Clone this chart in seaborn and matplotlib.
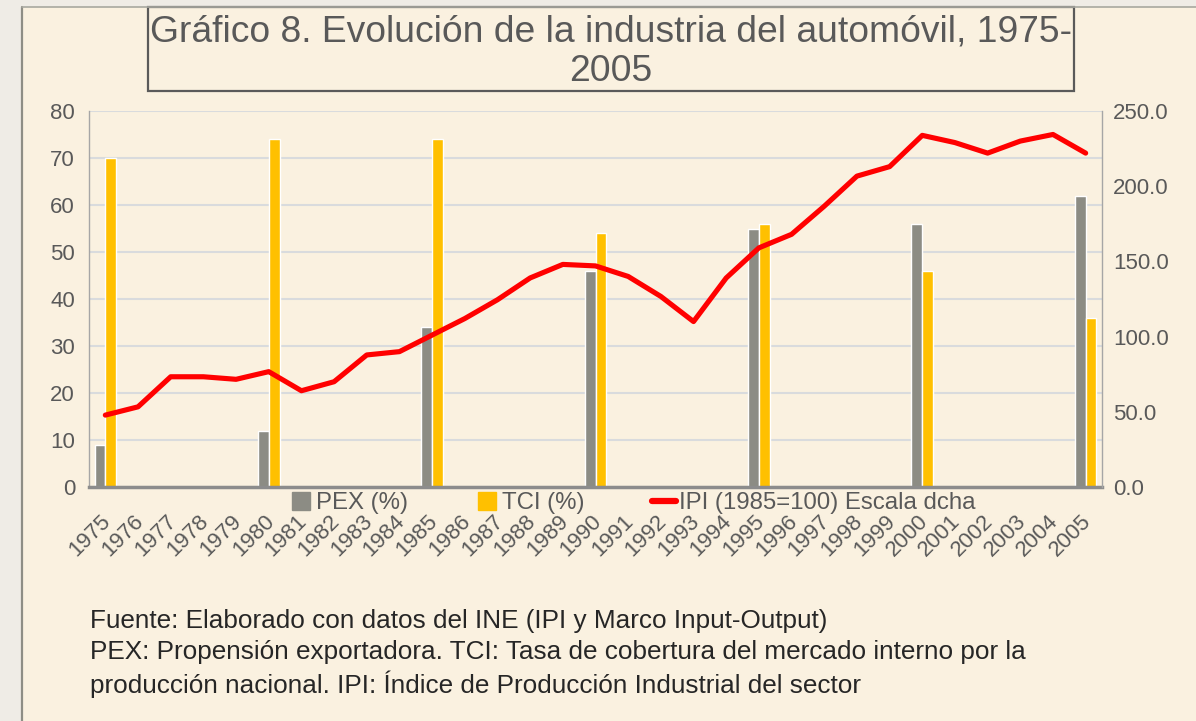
import numpy as np
import pandas as pd
import matplotlib
matplotlib.use("Agg")
import matplotlib.pyplot as plt
import matplotlib.transforms as mtransforms
import seaborn as sns
from matplotlib.lines import Line2D
from matplotlib.patches import Rectangle

# ---------------- data ----------------
years = [str(y) for y in range(1975, 2006)]
bar_years = ["1975", "1980", "1985", "1990", "1995", "2000", "2005"]
pex = [9, 12, 34, 46, 55, 56, 62]
tci = [70, 74, 74, 54, 56, 46, 36]
ipi = [47.8, 53.3, 73.3, 73.3, 71.6, 76.7, 64.0, 70.0, 87.8, 90.0,
       101.0, 112.0, 124.5, 139.0, 148.0, 147.0, 140.0, 126.7, 110.0, 139.0,
       159.0, 168.0, 186.7, 206.7, 213.0, 233.8, 229.0, 222.0, 230.0, 234.4,
       222.0]
series_names = ["PEX (%)", "TCI (%)", "IPI (1985=100) Escala dcha"]
title_text = "Gráfico 8. Evolución de la industria del automóvil, 1975-\n2005"
footer_lines = [
    "Fuente: Elaborado con datos del INE (IPI y Marco Input-Output)",
    "PEX: Propensión exportadora. TCI: Tasa de cobertura del mercado interno por la",
    "producción nacional. IPI: Índice de Producción Industrial del sector",
]

# ---------------- style ----------------
sns.set_style("white")
plt.rcParams["font.family"] = ["Liberation Sans", "DejaVu Sans"]

CREAM = "#FAF1E0"
OUTER = "#EFECE6"
GRAY_BAR = "#8C8C84"
YELLOW = "#FFC000"
TXT = "#595959"
GRID = "#D9DBDD"

W, H = 1196, 721
fig = plt.figure(figsize=(W / 100, H / 100), dpi=100, facecolor=OUTER)

# cream panel
fig.patches.append(Rectangle((22 / W, 0), 1 - 22 / W, (H - 7) / H,
                             transform=fig.transFigure, facecolor=CREAM,
                             edgecolor="none", zorder=-10))
fig.add_artist(Line2D([22 / W, 22 / W], [0, (H - 7) / H], transform=fig.transFigure,
                      color="#8E8E86", lw=1.6))
fig.add_artist(Line2D([22 / W, 1], [(H - 7) / H, (H - 7) / H], transform=fig.transFigure,
                      color="#A8A8A0", lw=1.2))

# title box
fig.patches.append(Rectangle((148 / W, 1 - 91 / H), (1074 - 148) / W, (91 - 7) / H,
                             transform=fig.transFigure, facecolor=CREAM,
                             edgecolor="#5A5A5A", lw=1.6, zorder=1))
fig.text(611 / W, 1 - 52 / H, title_text, ha="center", va="center",
         fontsize=26.8, color=TXT, linespacing=1.18, zorder=2)

# axes
ax = fig.add_axes([89 / W, (H - 487) / H, 1013 / W, 376 / H])
ax.set_facecolor(CREAM)

df = pd.DataFrame({
    "year": bar_years * 2,
    "serie": [series_names[0]] * len(bar_years) + [series_names[1]] * len(bar_years),
    "value": pex + tci,
})
sns.barplot(data=df, x="year", y="value", hue="serie", order=years,
            hue_order=series_names[:2], palette=[GRAY_BAR, YELLOW],
            width=0.66, gap=0, saturation=1, errorbar=None, legend=False, ax=ax)

ax.set_ylim(0, 80)
ax.set_yticks(np.arange(0, 81, 10))
ax.yaxis.grid(True, color=GRID, lw=1.5)
ax.xaxis.grid(False)
ax.set_axisbelow(True)
ax.set_xlabel("")
ax.set_ylabel("")
for s in ["top", "right"]:
    ax.spines[s].set_visible(False)
ax.spines["left"].set_color("#A6A6A6")
ax.spines["left"].set_linewidth(1.0)
ax.spines["bottom"].set_color("#8C8C8C")
ax.spines["bottom"].set_linewidth(2.5)
ax.tick_params(axis="y", length=0, pad=10, labelsize=16, labelcolor=TXT)
ax.tick_params(axis="x", length=0, pad=17, labelsize=16, labelcolor=TXT)
ax.set_xticks(range(len(years)))
ax.set_xticklabels(years, rotation=45, ha="right", va="top", rotation_mode="anchor")
shift = mtransforms.ScaledTranslation(-5 / 100, 0, fig.dpi_scale_trans)
for lab in ax.get_xticklabels():
    lab.set_transform(lab.get_transform() + shift)

ax2 = ax.twinx()
x_pos = np.arange(len(years))
sns.lineplot(x=x_pos, y=ipi, ax=ax2, color="#FF0000", linewidth=3.7,
             solid_joinstyle="round", solid_capstyle="round")
ax2.set_ylim(0, 250)
ax2.set_yticks(np.arange(0, 251, 50))
ax2.set_yticklabels([f"{v:.1f}" for v in np.arange(0, 251, 50)])
ax2.tick_params(axis="y", length=0, pad=8, labelsize=16, labelcolor=TXT)
ax2.grid(False)
for s in ["top", "left", "bottom"]:
    ax2.spines[s].set_visible(False)
ax2.spines["right"].set_color("#A6A6A6")
ax2.spines["right"].set_linewidth(1.0)
ax.set_xlim(-0.5, len(years) - 0.5)

# legend
handles = [
    Line2D([], [], marker="s", linestyle="none", markersize=12.5,
           markerfacecolor=GRAY_BAR, markeredgecolor=GRAY_BAR),
    Line2D([], [], marker="s", linestyle="none", markersize=12.5,
           markerfacecolor=YELLOW, markeredgecolor=YELLOW),
    Line2D([], [], color="#FF0000", lw=4.5),
]
fig.legend(handles, series_names, loc="center left", bbox_to_anchor=(289 / W, 1 - 503 / H),
           ncol=3, frameon=False, fontsize=17.3, labelcolor=TXT,
           handlelength=1.0, handletextpad=0.12, columnspacing=2.8,
           borderpad=0, borderaxespad=0)

# footer
for i, line in enumerate(footer_lines):
    fig.text(90 / W, 1 - (621 + i * 31.5) / H, line, ha="left", va="center",
             fontsize=18.8, color="#262626")

fig.savefig("out.png", dpi=100, facecolor=fig.get_facecolor())
